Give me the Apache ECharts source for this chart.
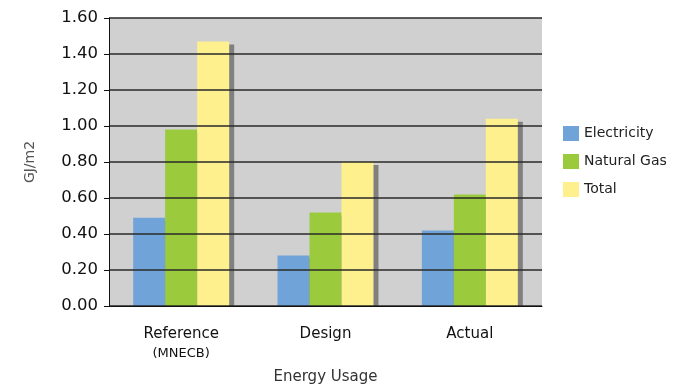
<!DOCTYPE html>
<html>
<head>
<meta charset="utf-8">
<script src="https://cdn.jsdelivr.net/npm/echarts@6/dist/echarts.min.js"></script>
<style>
  html, body { margin: 0; padding: 0; background: #ffffff; }
  #chart { width: 676px; height: 388px; }
</style>
</head>
<body>
<div id="chart"></div>
<script>
// Energy use intensity per building case (GJ/m2)
const categories = ['Reference\n{s|(MNECB)}', 'Design', 'Actual'];
const electricity = [0.49, 0.28, 0.42];
const naturalGas = [0.98, 0.52, 0.62];
const total = [1.47, 0.80, 1.04];
const yTicks = { min: 0, max: 1.6, step: 0.2 };

const FONT = '"DejaVu Sans", "Noto Sans", sans-serif';

function barSeries(name, data, color) {
  return {
    name: name,
    type: 'bar',
    data: data,
    barWidth: 32,
    barGap: '0%',
    itemStyle: {
      color: color,
      shadowColor: '#808080',
      shadowBlur: 0,
      shadowOffsetX: 5,
      shadowOffsetY: 3
    }
  };
}

const chart = echarts.init(document.getElementById('chart'), null, { renderer: 'canvas' });
chart.setOption({
  animation: false,
  textStyle: { fontFamily: FONT },
  grid: {
    left: 109, right: 134, top: 18, bottom: 82,
    outerBoundsMode: 'none',
    show: true, backgroundColor: '#d0d0d0', borderWidth: 0
  },
  // white strip under the baseline so the drop shadows stop at the axis
  graphic: {
    elements: [{
      type: 'rect',
      z: 10,
      shape: { x: 110, y: 306.5, width: 440, height: 3.5 },
      style: { fill: '#ffffff', stroke: null }
    }]
  },
  legend: {
    orient: 'vertical',
    left: 563, top: 126,
    padding: 0,
    itemWidth: 16, itemHeight: 15, itemGap: 13,
    icon: 'rect',
    textStyle: { fontFamily: FONT, fontSize: 14, color: '#222' },
    data: ['Electricity', 'Natural Gas', 'Total']
  },
  xAxis: {
    type: 'category',
    z: 20,
    data: categories,
    name: 'Energy Usage',
    nameLocation: 'middle',
    nameGap: 64,
    nameTextStyle: { fontFamily: FONT, fontSize: 15, color: '#333' },
    axisLine: { lineStyle: { color: '#111', width: 1 } },
    axisTick: { length: 5, lineStyle: { color: '#111' } },
    axisLabel: {
      margin: 19,
      fontFamily: FONT, fontSize: 15, color: '#111', lineHeight: 19,
      rich: { s: { fontFamily: FONT, fontSize: 13, color: '#111', lineHeight: 19 } }
    }
  },
  yAxis: {
    type: 'value',
    z: 20,
    min: yTicks.min, max: yTicks.max, interval: yTicks.step,
    name: 'GJ/m2',
    nameLocation: 'middle',
    nameGap: 72,
    nameTextStyle: { fontFamily: FONT, fontSize: 14, color: '#555' },
    axisLine: { show: true, lineStyle: { color: '#111', width: 1 } },
    axisTick: { show: true, length: 5, lineStyle: { color: '#111' } },
    axisLabel: {
      margin: 11,
      fontFamily: FONT, fontSize: 16.5, color: '#111',
      formatter: v => v.toFixed(2)
    },
    splitLine: { lineStyle: { color: '#2a2a2a', width: 1.5 } }
  },
  series: [
    barSeries('Electricity', electricity, '#70a4d8'),
    barSeries('Natural Gas', naturalGas, '#9bcb3c'),
    barSeries('Total', total, '#fef08c')
  ]
});
</script>
</body>
</html>
